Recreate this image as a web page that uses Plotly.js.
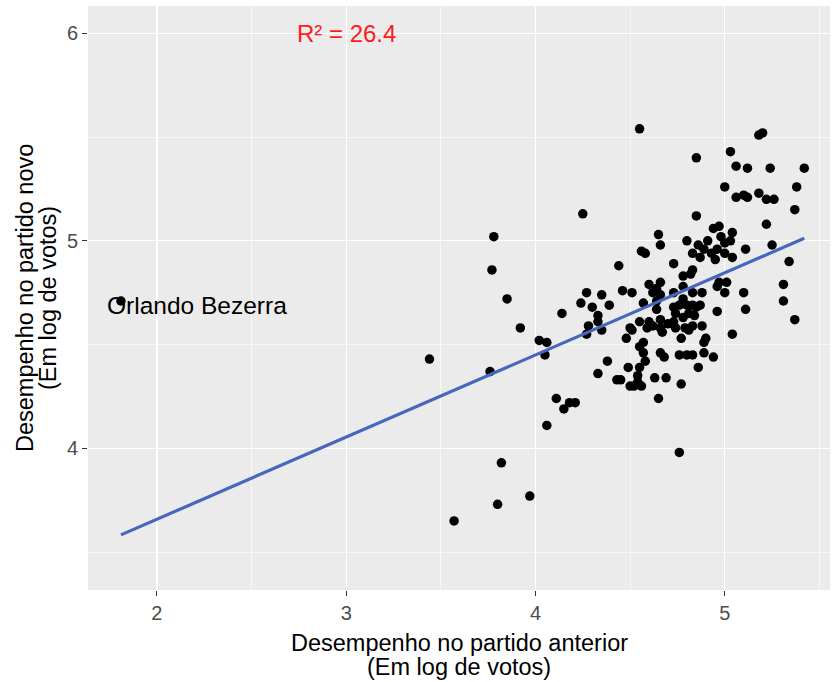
<!DOCTYPE html>
<html>
<head>
<meta charset="utf-8">
<script src="https://cdn.plot.ly/plotly-3.0.1.min.js"></script>
<style>html,body{margin:0;padding:0;background:#fff;}#chart{width:833px;height:682px;}</style>
</head>
<body>
<div id="chart"></div>
<script>
// Desempenho no partido anterior (log votos)
const prevLogVotes = [
1.81,3.44,3.57,3.76,3.78,3.77,3.82,3.80,3.85,3.97,3.92,4.02,4.06,4.05,4.06,4.11,4.15,4.18,4.21,4.25,
4.14,4.24,4.27,4.30,4.35,4.39,4.33,4.33,4.28,4.35,4.27,4.38,4.33,4.43,4.45,4.49,4.50,4.44,4.46,4.51,
4.48,4.50,4.55,4.56,4.58,4.60,4.57,4.55,4.51,4.59,4.62,4.66,4.67,4.64,4.57,4.55,4.57,4.58,4.55,4.54,
4.54,4.52,4.56,4.63,4.69,4.65,4.66,4.68,4.70,4.74,4.79,4.83,4.81,4.88,4.77,4.76,4.80,4.83,4.90,4.89,
4.89,4.94,4.86,4.77,4.76,4.96,5.04,5.11,5.31,5.37,4.76,4.80,4.87,4.74,4.81,4.84,4.85,5.03,5.06,5.12,
5.24,5.42,5.00,5.38,5.06,5.10,5.12,5.18,5.22,5.26,5.37,4.85,5.22,4.94,4.97,5.04,4.65,5.18,5.20,4.66,
4.80,4.86,4.91,4.89,4.93,4.96,4.98,5.00,4.83,4.87,5.03,5.25,5.11,4.95,5.34,4.73,4.83,4.82,4.78,4.66,
4.64,4.62,4.78,4.73,4.64,4.78,4.83,4.83,4.97,5.01,4.96,5.31,4.88,5.00,5.10,5.04,5.00,4.60,4.66,4.73,
4.78,4.73,4.85,4.66
];
// Desempenho no partido novo (log votos)
const newLogVotes = [
4.71,4.43,3.65,4.37,5.02,4.86,3.93,3.73,4.72,3.77,4.58,4.52,4.51,4.45,4.11,4.24,4.19,4.22,4.22,5.13,
4.65,4.70,4.75,4.68,4.74,4.69,4.64,4.61,4.59,4.57,4.55,4.42,4.36,4.33,4.33,4.39,4.30,4.88,4.76,4.75,
4.53,4.58,5.54,4.95,4.94,4.79,4.70,4.61,4.57,4.58,4.59,4.58,4.56,4.67,4.51,4.49,4.46,4.42,4.39,4.35,
4.32,4.30,4.30,4.34,4.34,4.24,4.46,4.44,4.60,4.58,4.58,4.59,4.57,4.59,4.53,4.45,4.45,4.45,4.53,4.51,
4.46,4.44,4.39,4.31,3.98,4.66,4.55,4.67,4.71,4.62,4.69,4.69,4.69,4.65,4.65,4.64,5.40,5.43,5.36,5.35,
5.35,5.35,5.26,5.26,5.21,5.22,5.21,5.23,5.20,5.20,5.15,5.12,5.08,5.06,5.07,5.04,5.03,5.51,5.52,4.98,
5.00,4.98,5.00,4.96,4.94,4.96,5.02,4.99,4.94,4.92,5.00,4.98,4.96,4.91,4.90,4.89,4.86,4.84,4.83,4.80,
4.77,4.75,4.78,4.75,4.71,4.72,4.75,4.69,4.80,4.80,4.78,4.79,4.75,4.75,4.75,4.92,4.94,4.61,4.62,4.61,
4.63,4.68,4.68,4.74
];
// Linear fit
const fitIntercept = 2.866;
const fitSlope = 0.396;
const r2Label = "R² = 26.4";
const outlierLabel = "Orlando Bezerra";
const xTickVals = [2, 3, 4, 5];
const yTickVals = [4, 5, 6];

const xMin = Math.min(...prevLogVotes), xMax = Math.max(...prevLogVotes);
const lineX = [], lineY = [];
for (let i = 0; i <= 80; i++) {
  const xv = xMin + (xMax - xMin) * i / 80;
  lineX.push(xv); lineY.push(fitIntercept + fitSlope * xv);
}

const font = "Liberation Sans, Arial, sans-serif";
const traces = [
  {type: "scatter", mode: "markers", x: prevLogVotes, y: newLogVotes,
   marker: {color: "black", size: 9.5}, hoverinfo: "skip"},
  {type: "scatter", mode: "lines", x: lineX, y: lineY,
   line: {color: "#4766bd", width: 3.2}, hoverinfo: "skip"}
];

const axisCommon = {
  showline: false, zeroline: false, gridcolor: "#ffffff", gridwidth: 1.2,
  ticks: "outside", ticklen: 5, tickwidth: 1.1, tickcolor: "#333333",
  tickfont: {family: font, size: 20, color: "#4d4d4d"},
  minor: {showgrid: true, gridcolor: "#ffffff", gridwidth: 0.6, ticks: ""}
};

const layout = {
  width: 833, height: 682,
  margin: {l: 88, r: 3, t: 6, b: 92},
  paper_bgcolor: "#ffffff", plot_bgcolor: "#ebebeb",
  showlegend: false,
  font: {family: font},
  xaxis: Object.assign({}, axisCommon, {
    range: [1.636, 5.556], tickmode: "array", tickvals: xTickVals,
    minor: Object.assign({}, axisCommon.minor, {dtick: 0.5, tick0: 1.5})
  }),
  yaxis: Object.assign({}, axisCommon, {
    range: [3.317, 6.132], tickmode: "array", tickvals: yTickVals,
    minor: Object.assign({}, axisCommon.minor, {dtick: 0.5, tick0: 3.5})
  }),
  annotations: [
    {x: 3, y: 6.0, xref: "x", yref: "y", text: r2Label, showarrow: false,
     font: {family: font, size: 24, color: "#ff1a1a"}, xanchor: "center", yanchor: "middle"},
    {x: 2.21, y: 4.69, xref: "x", yref: "y", text: outlierLabel, showarrow: false,
     font: {family: font, size: 24.5, color: "#000000"}, xanchor: "center", yanchor: "middle"},
    {x: 0.5, y: 0, xref: "paper", yref: "paper", yshift: -53, text: "Desempenho no partido anterior", showarrow: false,
     font: {family: font, size: 23.5, color: "#000"}, xanchor: "center", yanchor: "middle"},
    {x: 0.5, y: 0, xref: "paper", yref: "paper", yshift: -77, text: "(Em log de votos)", showarrow: false,
     font: {family: font, size: 23.5, color: "#000"}, xanchor: "center", yanchor: "middle"},
    {x: 0, y: 0.5, xref: "paper", yref: "paper", xshift: -63, text: "Desempenho no partido novo", showarrow: false,
     textangle: -90, font: {family: font, size: 23.5, color: "#000"}, xanchor: "center", yanchor: "middle"},
    {x: 0, y: 0.5, xref: "paper", yref: "paper", xshift: -40, text: "(Em log de votos)", showarrow: false,
     textangle: -90, font: {family: font, size: 23.5, color: "#000"}, xanchor: "center", yanchor: "middle"}
  ]
};

Plotly.newPlot("chart", traces, layout, {displayModeBar: false, staticPlot: true});
</script>
</body>
</html>
